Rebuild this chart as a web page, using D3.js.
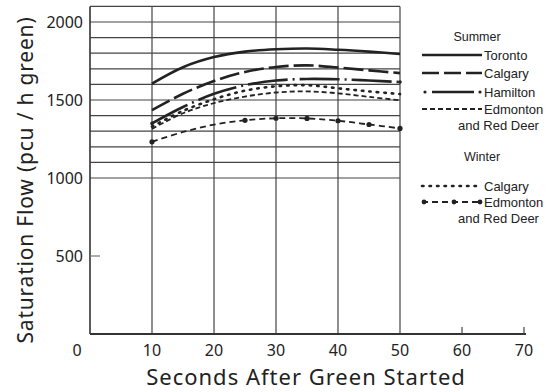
<!DOCTYPE html>
<html>
<head>
<meta charset="utf-8">
<script src="https://cdn.jsdelivr.net/npm/d3@7"></script>
<style>
  body { margin: 0; background: #fff; }
  text { font-family: "Noto Sans", sans-serif; fill: #222; }
  .legend text { font-family: "Liberation Sans", Arial, sans-serif; }
</style>
</head>
<body>
<div id="chart"></div>
<script>
// data (seconds after green vs pcu / h green)
var seconds = [10, 15, 20, 25, 30, 35, 40, 45, 50];
var toronto = [1605, 1710, 1775, 1810, 1825, 1830, 1822, 1810, 1795];
var calgarySummer = [1435, 1540, 1622, 1680, 1712, 1722, 1708, 1690, 1672];
var hamilton = [1350, 1455, 1540, 1595, 1625, 1635, 1633, 1625, 1615];
var edmontonSummer = [1315, 1415, 1480, 1522, 1548, 1555, 1543, 1520, 1498];
var calgaryWinter = [1330, 1430, 1505, 1560, 1588, 1595, 1575, 1555, 1538];
var edmontonWinter = [1232, 1295, 1342, 1370, 1383, 1382, 1367, 1343, 1318];

var xTicks = [0, 10, 20, 30, 40, 50, 60, 70];
var yTicks = [500, 1000, 1500, 2000];
var gridFlows = [1000, 1100, 1200, 1300, 1400, 1500, 1600, 1700, 1800, 1900, 2000, 2100];

var svgWidth = 560;
var svgHeight = 392;

var svg = d3.select("#chart").append("svg")
    .attr("width", svgWidth)
    .attr("height", svgHeight);

// scales - frame runs 0..50 s, axis line carries on to 70
var x = d3.scaleLinear().domain([0, 70]).range([90, 524]);
var y = d3.scaleLinear().domain([0, 2000]).range([334, 22]);

var grid = svg.append("g").attr("stroke", "#444").attr("stroke-width", 1.2);

// horizontal grid 1000..2100
grid.selectAll(".hgrid")
    .data(gridFlows)
    .enter().append("line")
    .attr("x1", x(0)).attr("x2", x(50))
    .attr("y1", d => y(d)).attr("y2", d => y(d));

// vertical lines at 10..50
grid.selectAll(".vgrid")
    .data([10, 20, 30, 40, 50])
    .enter().append("line")
    .attr("x1", d => x(d)).attr("x2", d => x(d))
    .attr("y1", y(2100)).attr("y2", y(0));

// left frame
svg.append("line")
    .attr("x1", x(0)).attr("x2", x(0))
    .attr("y1", y(2100)).attr("y2", y(0))
    .attr("stroke", "#333").attr("stroke-width", 1.6);

// bottom axis line with end ticks
svg.append("line")
    .attr("x1", x(0)).attr("x2", x(70) + 2)
    .attr("y1", y(0)).attr("y2", y(0))
    .attr("stroke", "#333").attr("stroke-width", 1.8);
svg.selectAll(".xtick")
    .data([60, 70])
    .enter().append("line")
    .attr("x1", d => x(d)).attr("x2", d => x(d))
    .attr("y1", y(0)).attr("y2", y(0) - 7)
    .attr("stroke", "#444").attr("stroke-width", 1.2);

// small 500 tick
svg.append("line")
    .attr("x1", x(0)).attr("x2", x(0) + 10)
    .attr("y1", y(500)).attr("y2", y(500))
    .attr("stroke", "#777").attr("stroke-width", 1.2);

// tick labels
svg.selectAll(".xlab")
    .data(xTicks)
    .enter().append("text")
    .attr("x", d => d === 0 ? x(0) - 13 : x(d))
    .attr("y", 356)
    .attr("text-anchor", "middle")
    .style("font-size", "16px")
    .text(d => d);

svg.selectAll(".ylab")
    .data(yTicks)
    .enter().append("text")
    .attr("x", 83)
    .attr("y", d => y(d) + 5.5)
    .attr("text-anchor", "end")
    .style("font-size", "16px")
    .text(d => d);

// axis titles
svg.append("text")
    .attr("x", 306)
    .attr("y", 385)
    .attr("text-anchor", "middle")
    .style("font-size", "22px")
    .style("letter-spacing", "1px")
    .text("Seconds After Green Started");

svg.append("text")
    .attr("transform", "translate(33, 180) rotate(-90)")
    .attr("text-anchor", "middle")
    .style("font-size", "21px")
    .style("letter-spacing", "0.8px")
    .text("Saturation Flow (pcu / h green)");

// the curves
var series = [
    {name: "Toronto", vals: toronto, dash: null, w: 2.6},
    {name: "Calgary", vals: calgarySummer, dash: "20,5", w: 2.6},
    {name: "Hamilton", vals: hamilton, dash: "40,5,2,5", w: 2.6},
    {name: "Edmonton", vals: edmontonSummer, dash: "5,3", w: 1.8},
    {name: "Calgary W", vals: calgaryWinter, dash: "1.5,6", w: 2.6, round: true},
    {name: "Edmonton W", vals: edmontonWinter, dash: "6,4", w: 1.8}
];

var line = d3.line()
    .x((d, i) => x(seconds[i]))
    .y(d => y(d))
    .curve(d3.curveCatmullRom.alpha(0.5));

svg.append("g").selectAll("path")
    .data(series)
    .enter().append("path")
    .attr("d", d => line(d.vals))
    .attr("fill", "none")
    .attr("stroke", "#222")
    .attr("stroke-width", d => d.w)
    .attr("stroke-linecap", d => d.round ? "round" : "butt")
    .attr("stroke-dasharray", d => d.dash);

// markers on the winter Edmonton line
var markIdx = [0, 3, 4, 5, 6, 7, 8];
svg.selectAll(".mark")
    .data(markIdx)
    .enter().append("circle")
    .attr("cx", i => x(seconds[i]))
    .attr("cy", i => y(edmontonWinter[i]))
    .attr("r", 2.6)
    .attr("fill", "#222");

// hamilton end dots
svg.selectAll(".hdot")
    .data([0, 8])
    .enter().append("circle")
    .attr("cx", i => x(seconds[i]))
    .attr("cy", i => y(hamilton[i]))
    .attr("r", 1.8)
    .attr("fill", "#222");

// legend
var legend = svg.append("g").attr("class", "legend");
var lx1 = 422, lx2 = 482;

legend.append("text").attr("x", 477).attr("y", 41)
    .attr("text-anchor", "middle").style("font-size", "12.5px").text("Summer");
legend.append("text").attr("x", 482).attr("y", 161)
    .attr("text-anchor", "middle").style("font-size", "12.5px").text("Winter");

var legendRows = [
    {y: 55, s: series[0], label: "Toronto"},
    {y: 73, s: series[1], label: "Calgary"},
    {y: 92, s: series[2], label: "Hamilton"},
    {y: 109, s: series[3], label: "Edmonton", sub: "and Red Deer"},
    {y: 186, s: series[4], label: "Calgary"},
    {y: 202, s: series[5], label: "Edmonton", sub: "and Red Deer"}
];

legendRows.forEach(function(r, k) {
    var dash = r.s.dash;
    if (k === 1) dash = "17,5";
    if (k === 2) dash = null;
    legend.append("line")
        .attr("x1", k === 2 ? lx1 + 10 : lx1).attr("x2", k === 2 ? lx2 - 8 : lx2)
        .attr("y1", r.y).attr("y2", r.y)
        .attr("stroke", "#222")
        .attr("stroke-width", r.s.w)
        .attr("stroke-linecap", r.s.round ? "round" : "butt")
        .attr("stroke-dasharray", dash);
    if (k === 2) {
        [lx1 + 3, lx2 - 2].forEach(function(cx) {
            legend.append("circle").attr("cx", cx).attr("cy", r.y).attr("r", 1.6).attr("fill", "#222");
        });
    }
    if (k === 5) {
        [lx1 + 2, lx1 + 32, lx2 - 2].forEach(function(cx) {
            legend.append("circle").attr("cx", cx).attr("cy", r.y).attr("r", 2.4).attr("fill", "#222");
        });
    }
    legend.append("text")
        .attr("x", 484).attr("y", r.y + 4.5)
        .style("font-size", "13px")
        .text(r.label);
    if (r.sub) {
        legend.append("text")
            .attr("x", 458).attr("y", r.y + 21)
            .style("font-size", "13px")
            .text(r.sub);
    }
});
</script>
</body>
</html>
